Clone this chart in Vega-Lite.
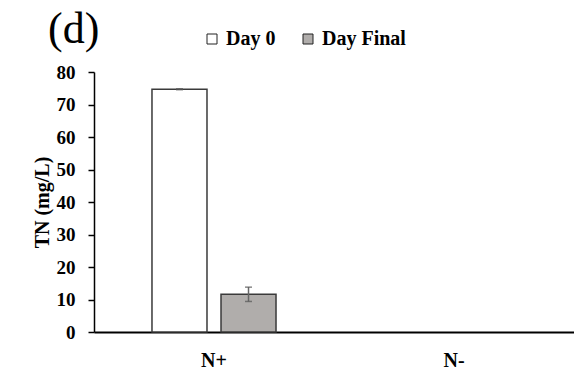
{
  "$schema": "https://vega.github.io/schema/vega-lite/v6.json",
  "width": 480,
  "height": 260,
  "autosize": {"type": "none"},
  "padding": {"left": 94, "top": 72, "right": 0, "bottom": 39},
  "background": "white",
  "title": {
    "text": "(d)",
    "anchor": "start",
    "frame": "group",
    "font": "Liberation Serif",
    "fontSize": 44,
    "fontWeight": "normal",
    "color": "black",
    "baseline": "alphabetic",
    "dx": -46,
    "offset": -58
  },
  "config": {
    "view": {"stroke": null},
    "font": "Liberation Serif",
    "axisY": {
      "grid": false,
      "labelFont": "Liberation Serif",
      "labelFontSize": 19,
      "labelFontWeight": "bold",
      "labelColor": "black",
      "labelPadding": 13,
      "labelOverlap": false,
      "tickColor": "black",
      "tickSize": 6,
      "tickWidth": 1.5,
      "domainColor": "black",
      "domainWidth": 1.5,
      "titleFont": "Liberation Serif",
      "titleFontSize": 20,
      "titleFontWeight": "bold",
      "titleColor": "black",
      "titlePadding": 4
    }
  },
  "data": {
    "values": [
      {"group": "N+", "day": "Day 0", "tn": 74.7, "sd": 0.15},
      {"group": "N+", "day": "Day Final", "tn": 11.6, "sd": 2.2}
    ]
  },
  "transform": [
    {"calculate": "datum.tn - datum.sd", "as": "lo"},
    {"calculate": "datum.tn + datum.sd", "as": "hi"}
  ],
  "encoding": {
    "x": {
      "field": "group",
      "type": "nominal",
      "scale": {"domain": ["N+", "N-"], "paddingInner": 0, "paddingOuter": 0},
      "axis": {
        "title": null,
        "labelAngle": 0,
        "labelFont": "Liberation Serif",
        "labelFontSize": 20,
        "labelFontWeight": "bold",
        "labelColor": "black",
        "labelPadding": 18,
        "ticks": false,
        "domainColor": "black",
        "domainWidth": 2
      }
    },
    "xOffset": {
      "field": "day",
      "type": "nominal",
      "sort": ["Day 0", "Day Final"],
      "scale": {"paddingInner": 0.203, "paddingOuter": 0.84}
    }
  },
  "layer": [
    {
      "mark": {"type": "bar", "stroke": "#3a3a3a", "strokeWidth": 1.5},
      "encoding": {
        "y": {
          "field": "tn",
          "type": "quantitative",
          "scale": {"domain": [0, 80], "nice": false},
          "axis": {"title": "TN (mg/L)", "values": [0, 10, 20, 30, 40, 50, 60, 70, 80]}
        },
        "fill": {
          "field": "day",
          "type": "nominal",
          "scale": {"domain": ["Day 0", "Day Final"], "range": ["#ffffff", "#b0adab"]},
          "legend": {
            "title": null,
            "orient": "none",
            "direction": "horizontal",
            "legendX": 108,
            "legendY": -43,
            "symbolType": "square",
            "symbolSize": 100,
            "symbolStrokeColor": "#222222",
            "symbolStrokeWidth": 1,
            "labelFont": "Liberation Serif",
            "labelFontSize": 20,
            "labelFontWeight": "bold",
            "labelColor": "black",
            "labelOffset": 4,
            "columnPadding": 22
          }
        }
      }
    },
    {
      "mark": {"type": "rule", "color": "#666666", "strokeWidth": 1.5},
      "encoding": {
        "y": {
          "field": "lo",
          "type": "quantitative",
          "axis": {"title": "TN (mg/L)", "values": [0, 10, 20, 30, 40, 50, 60, 70, 80]}
        },
        "y2": {"field": "hi"}
      }
    },
    {
      "mark": {"type": "tick", "color": "#555555", "thickness": 1.5, "size": 7},
      "encoding": {
        "y": {
          "field": "lo",
          "type": "quantitative",
          "axis": {"title": "TN (mg/L)", "values": [0, 10, 20, 30, 40, 50, 60, 70, 80]}
        }
      }
    },
    {
      "mark": {"type": "tick", "color": "#555555", "thickness": 1.5, "size": 7},
      "encoding": {
        "y": {
          "field": "hi",
          "type": "quantitative",
          "axis": {"title": "TN (mg/L)", "values": [0, 10, 20, 30, 40, 50, 60, 70, 80]}
        }
      }
    }
  ]
}
